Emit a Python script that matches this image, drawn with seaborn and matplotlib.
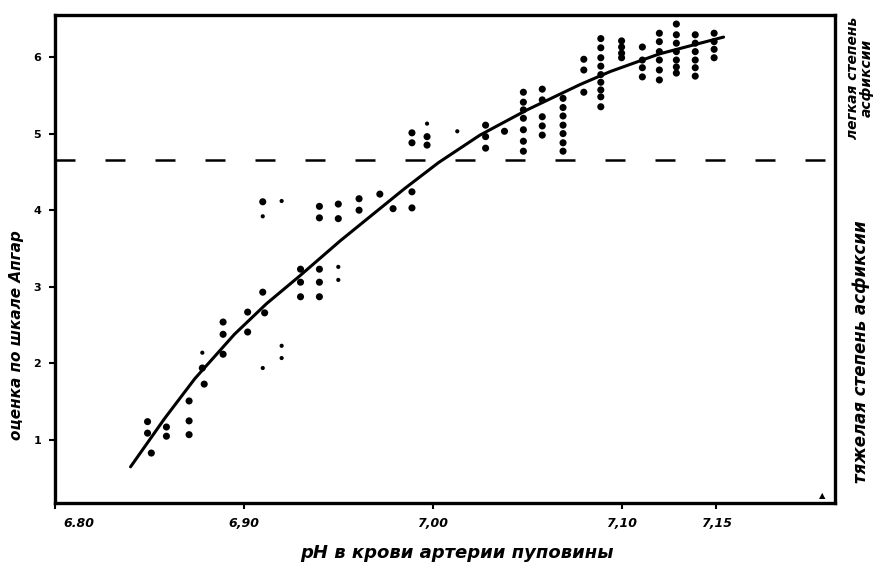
import matplotlib
matplotlib.use("Agg")
import matplotlib.pyplot as plt
import matplotlib.transforms as mtransforms
import seaborn as sns
import pandas as pd

# ---- data ----
ph_big = [6.849, 6.849, 6.851, 6.859, 6.859,
          6.871, 6.871, 6.871, 6.878, 6.879,
          6.889, 6.889, 6.889, 6.902, 6.902,
          6.910, 6.910, 6.911,
          6.930, 6.930, 6.930, 6.940, 6.940, 6.940, 6.940, 6.940,
          6.950, 6.950, 6.961, 6.961, 6.972, 6.979,
          6.989, 6.989, 6.989, 6.989, 6.997, 6.997,
          7.028, 7.028, 7.028, 7.038,
          7.048, 7.048, 7.048, 7.048, 7.048, 7.048, 7.048,
          7.058, 7.058, 7.058, 7.058, 7.058,
          7.069, 7.069, 7.069, 7.069, 7.069, 7.069, 7.069,
          7.080, 7.080, 7.080,
          7.089, 7.089, 7.089, 7.089, 7.089, 7.089, 7.089, 7.089, 7.089,
          7.100, 7.100, 7.100, 7.100,
          7.111, 7.111, 7.111, 7.111,
          7.120, 7.120, 7.120, 7.120, 7.120, 7.120,
          7.129, 7.129, 7.129, 7.129, 7.129, 7.129, 7.129,
          7.139, 7.139, 7.139, 7.139, 7.139, 7.139,
          7.149, 7.149, 7.149, 7.149]
score_big = [1.24, 1.09, 0.83, 1.17, 1.05,
             1.51, 1.25, 1.07, 1.94, 1.73,
             2.54, 2.38, 2.12, 2.67, 2.41,
             4.11, 2.93, 2.66,
             3.23, 3.06, 2.87, 4.05, 3.90, 3.23, 3.06, 2.87,
             4.08, 3.89, 4.15, 4.00, 4.21, 4.02,
             5.01, 4.88, 4.24, 4.03, 4.96, 4.85,
             5.11, 4.96, 4.81, 5.03,
             5.54, 5.41, 5.31, 5.20, 5.05, 4.90, 4.77,
             5.58, 5.44, 5.22, 5.10, 4.98,
             5.46, 5.34, 5.23, 5.11, 5.00, 4.88, 4.77,
             5.97, 5.83, 5.54,
             6.24, 6.12, 5.99, 5.88, 5.77, 5.67, 5.57, 5.48, 5.35,
             6.21, 6.13, 6.05, 5.99,
             6.13, 5.96, 5.86, 5.74,
             6.31, 6.20, 6.07, 5.96, 5.83, 5.70,
             6.43, 6.29, 6.18, 6.07, 5.96, 5.87, 5.79,
             6.29, 6.18, 6.07, 5.96, 5.86, 5.75,
             6.31, 6.20, 6.10, 5.99]

ph_small = [6.878, 6.910, 6.910, 6.920, 6.920, 6.920, 6.950, 6.950, 6.997, 7.013]
score_small = [2.14, 3.92, 1.94, 4.12, 2.23, 2.07, 3.26, 3.09, 5.13, 5.03]

curve_ph = [6.840, 6.858, 6.874, 6.895, 6.912, 6.929, 6.951, 6.966, 6.985,
            7.003, 7.025, 7.050, 7.078, 7.094, 7.120, 7.154]
curve_score = [0.65, 1.28, 1.80, 2.38, 2.78, 3.13, 3.60, 3.90, 4.28,
               4.62, 4.98, 5.31, 5.64, 5.81, 6.04, 6.26]

threshold = 4.65

x_ticks = [6.80, 6.90, 7.00, 7.10, 7.15]
x_ticklabels = ["6.80", "6,90", "7,00", "7,10", "7,15"]
y_ticks = [1, 2, 3, 4, 5, 6]
y_ticklabels = ["1", "2", "3", "4", "5", "6"]

x_title = "pH в крови артерии пуповины"
y_title = "оценка по шкале Апгар"
upper_note = "легкая степень\nасфиксии"
lower_note = "тяжелая степень асфиксии"

# ---- build frames ----
pts = pd.DataFrame({
    "ph": ph_big + ph_small,
    "score": score_big + score_small,
    "kind": ["big"] * len(ph_big) + ["small"] * len(ph_small),
})
curve = pd.DataFrame({"ph": curve_ph, "score": curve_score})

sns.set_theme(style="white")
plt.rcParams["font.family"] = ["DejaVu Sans"]
plt.rcParams["text.color"] = "black"
plt.rcParams["axes.labelcolor"] = "black"
plt.rcParams["xtick.color"] = "black"
plt.rcParams["ytick.color"] = "black"

fig = plt.figure(figsize=(8.8, 5.62), dpi=100)
ax = fig.add_axes([55 / 880, 1 - 503 / 562, 780 / 880, 488 / 562])

sns.scatterplot(data=pts, x="ph", y="score", size="kind",
                sizes={"big": 26, "small": 9}, color="black",
                edgecolor="none", legend=False, ax=ax, zorder=3)
sns.lineplot(data=curve, x="ph", y="score", sort=False, estimator=None,
             color="black", lw=2.2, ax=ax, zorder=4)
ax.axhline(threshold, color="black", lw=1.8, ls=(0, (8, 12)), zorder=2)

ax.set_xlim(6.80, 7.213)
ax.set_ylim(0.178, 6.548)

ax.set_xticks(x_ticks)
ax.set_xticklabels(x_ticklabels, fontsize=9, fontweight="bold", fontstyle="italic")
ax.set_yticks(y_ticks)
ax.set_yticklabels(y_ticklabels, fontsize=8, fontweight="bold")
ax.tick_params(axis="both", direction="out", length=4, width=1.5, color="black",
               bottom=True, left=True, pad=6)
# shift the first x label to the right, as in the original
lab0 = ax.get_xticklabels()[0]
lab0.set_transform(lab0.get_transform() +
                   mtransforms.ScaledTranslation(0.24, 0, fig.dpi_scale_trans))

for s in ax.spines.values():
    s.set_visible(True)
    s.set_color("black")
    s.set_linewidth(2.4)

ax.set_xlabel(x_title, fontsize=13, fontweight="bold", fontstyle="italic")
ax.set_ylabel(y_title, fontsize=11, fontweight="bold", fontstyle="italic")
ax.xaxis.set_label_coords(0.515, -0.085)
ax.yaxis.set_label_coords(-0.040, 0.344)

fig.text(860 / 880, 1 - 78 / 562, upper_note, rotation=90, ha="center", va="center",
         fontsize=10, fontweight="bold", fontstyle="italic", linespacing=1.0)
fig.text(861 / 880, 1 - 352 / 562, lower_note, rotation=90, ha="center", va="center",
         fontsize=12, fontweight="bold", fontstyle="italic")
fig.text(822 / 880, 1 - 496 / 562, "▲", ha="center", va="center", fontsize=6)

fig.savefig("out.png", dpi=100, facecolor="white")
